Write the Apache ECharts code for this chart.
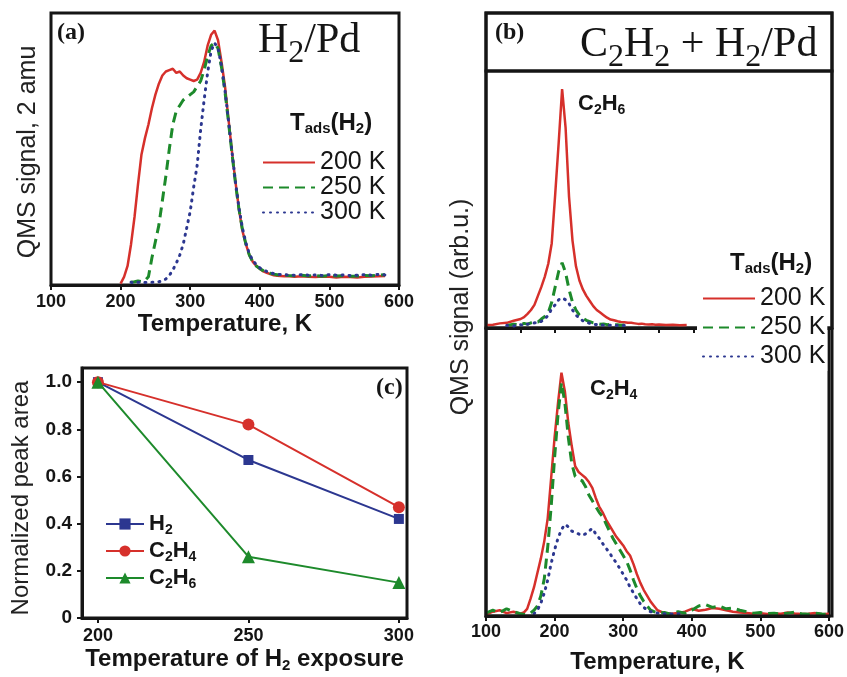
<!DOCTYPE html>
<html><head><meta charset="utf-8">
<script src="https://cdn.jsdelivr.net/npm/echarts@6/dist/echarts.min.js"></script>
<style>html,body{margin:0;padding:0;background:#fff}#c{width:847px;height:677px}</style>
</head><body><div id="c"></div>
<script>
// ---------- Panel (a): H2 TPD, QMS 2 amu ----------
const tempsA = [200,205,210,215,220,225,230,235,240,245,
  250,255,260,265,270,275,280,285,290,295,
  300,305,310,315,320,325,330,335,340,345,
  350,355,360,365,370,375,380,385,390,395,
  400,405,410,415,420,425,430,435,440,
  450,460,470,480,490,500,510,520,530,540,550,560,570,580];
const a200 = [0.5,3,7,15,25,37,48,54,59,65,
  70,74,77,78.5,79,79.5,78,78.5,77,76,
  75.5,75,75.5,78,82,88,92,93.5,90,82,
  73,61,49,38,28,20,15,11,8.5,7,
  6,5,4.5,4,3.6,3.4,3.3,3.2,3.3,
  3,3.2,3,2.9,3.1,3,2.8,3,2.9,2.8,3,3.1,3.2,3.3];
const a250 = [null,null,null,1,1.2,1.5,1.3,1.6,3,10,
  16,22,31,40,50,59,64,66,68,69,
  70,71,73,75,79,84,88,89,87,80,
  71,60,48.5,37.5,28,20.5,15,11,8.5,7,
  6,5.3,4.8,4.3,4,3.8,3.6,3.7,3.5,
  3.4,3.6,3.3,3.5,3.2,3.5,3.3,3.4,3.2,3.3,3.5,3.4,3.6,3.8];
const a300 = [null,null,null,1,0.8,1,1.1,0.9,1,1,
  1.1,1.2,1.5,2.2,3.5,5.5,8,11,15,21,
  27,36,44,57,68,78,86,89,87,80.5,
  71.5,60.5,49,38,28.5,21,15.5,11.5,9,7.5,
  6.3,5.5,5,4.5,4.2,4,3.8,3.9,3.7,
  3.6,3.8,3.6,3.7,3.5,3.8,3.6,3.7,3.5,3.6,3.8,3.6,3.9,3.7];

// ---------- Panel (b): C2H2 + H2/Pd ----------
const tempsB = [100,110,120,130,140,150,
  155,160,165,170,175,180,185,190,195,200,
  205,210,215,220,225,230,235,240,245,250,
  255,260,265,270,275,280,285,290,295,300,
  305,310,315,320,325,330,335,340,345,350,
  360,370,380,390,400,410,420,430,440,450,460,470,480,490,500,510,520,530,540,550,560,570,580,590,600];
// C2H6 (upper)
const c2h6_200 = [1.2,1.3,1.8,2,2.8,3.5,
  4.2,5.5,7,9,12.5,16,20,25,33,52,
  72,93,78,51,34,24,18.5,15,12.5,10.5,
  8.5,7,6,5,4,3.3,3,2.6,2.3,2.2,
  2,2,1.8,1.6,1.7,1.5,1.4,1.5,1.3,1.4,
  1.2,1.3,1.1,1.2,null,null,null,null,null,null,null,null,null,null,null,null,null,null,null,null,null,null,null,null,null];
const c2h6_250 = [null,null,null,1,1.5,1.2,
  1.8,1.5,2,2.5,2.3,3.5,4.5,6,10,16,
  22,25.4,21.5,15,10,7,5,3.8,3,2.5,
  2,1.8,1.5,1.6,1.3,1.4,1.2,1.3,1.1,1.2,
  null,null,null,null,null,null,null,null,null,null,
  null,null,null,null,null,null,null,null,null,null,null,null,null,null,null,null,null,null,null,null,null,null,null,null,null];
const c2h6_300 = [null,null,null,1,0.8,1.3,
  1,1.5,1.7,2,2,2.6,3.5,5,7.5,9,
  11,11.7,11,9.5,7,5,3.8,2.8,2.3,1.8,
  1.5,1.3,1.2,1.1,1,1.1,0.9,1,0.9,1,
  null,null,null,null,null,null,null,null,null,null,
  null,null,null,null,null,null,null,null,null,null,null,null,null,null,null,null,null,null,null,null,null,null,null,null,null];
// C2H4 (lower)
const c2h4_200 = [0.5,1.5,2,1,1.5,0.8,
  1.2,2.5,6,10,15,20,26,34,48,62,
  74,84.5,78,67,59,52,50,49,48,46.5,
  44.5,41,38,36,33.5,31.5,29.5,27.5,26,24.5,
  22.5,21,18,14.5,11.5,9,7,5,3.5,2,
  1,0.8,1,1.5,2.5,1.8,2.2,2.8,2.5,2,1.5,1.2,1,0.8,1,0.7,0.9,0.8,1.2,0.9,0.7,0.8,1,0.6,0.8];
const c2h4_250 = [1,2,1.2,2.5,1.5,0.8,
  0.5,0.5,1,2,3.5,7,13,24,38,55,
  70,81,74,62,53,48.5,47.5,47,45,42,
  40,38,36,34.5,32,29.5,27,25,23,21,
  19,16,12.5,9.5,7,5,3.5,2,1.5,1,
  1.2,0.6,1.5,1,2,3.5,4,3,3.5,2.5,2.8,2,1.5,1,1.2,0.8,1,0.7,1,1.3,0.8,0.6,1,0.7,0.5];
const c2h4_300 = [null,null,null,null,null,null,
  null,null,null,0.8,2,4.5,8,12.5,18.3,23,
  27,30,31.8,31,29.5,29,28.5,28,28.5,29.5,
  30.4,28.5,27,25.2,23.5,22,20,18.5,16.5,14.5,
  12.5,10,8,6,4.2,3,2,1.5,1.2,1,
  0.8,0.7,0.8,0.6,null,null,null,null,null,null,null,null,null,null,null,null,null,null,null,null,null,null,null,null,null];

// ---------- Panel (c): normalized peak areas ----------
const cTemps = [200,250,300];
const cH2   = [1.0,0.67,0.42];
const cC2H4 = [1.0,0.82,0.47];
const cC2H6 = [1.0,0.26,0.15];

const xTicksC = [200,250,300];
const yTicksC = [0,0.2,0.4,0.6,0.8,1.0];

// ---------- styling ----------
const SANS = '"Liberation Sans", Arial, sans-serif';
const SERIF = '"Liberation Serif", "Times New Roman", serif';
const RED = '#d6302b', GREEN = '#1d8a2b', BLUE = '#2c3790', INK = '#151515';

function zip(xs, ys){ const out=[]; for(let i=0;i<xs.length;i++){ if(ys[i]!==null) out.push([xs[i], ys[i]]); } return out; }

const tprStyle = {
  '200 K': {color: RED, width: 2.5, type: 'solid'},
  '250 K': {color: GREEN, width: 3, type: [10,6]},
  '300 K': {color: BLUE, width: 3, type: [1,6], cap: 'round'}
};
function tprSeries(name, xi, ys, xs){
  const ls = tprStyle[name];
  return {type:'line', name, xAxisIndex: xi, yAxisIndex: xi, data: zip(xs, ys),
    symbol:'none', showSymbol:false, animation:false,
    lineStyle: Object.assign({}, ls), itemStyle:{color: ls.color}};
}

const gridBase = {show:true, borderColor: INK, borderWidth: 3, backgroundColor:'transparent', containLabel:false};
const noAxis = {axisLine:{show:false}, axisTick:{show:false}, axisLabel:{show:false}, splitLine:{show:false}};
const tickLab = {fontFamily: SANS, fontWeight:'bold', fontSize: 18, color: INK};

const subRichSans = (F, f, L, p) => ({
  m: {fontFamily: SANS, fontWeight:'bold', fontSize: F, lineHeight: L, color: INK},
  s: {fontFamily: SANS, fontWeight:'bold', fontSize: f, lineHeight: L, padding:[p,0,0,0], color: INK}
});
const gRich = (fam, w, F, f, L, p) => ({
  m: {fontFamily: fam, fontWeight: w, fontSize: F, lineHeight: L, fill: INK},
  s: {fontFamily: fam, fontWeight: w, fontSize: f, lineHeight: L, padding:[p,0,0,0], fill: INK}
});

function gText(x, y, text, rich, extra){
  return Object.assign({type:'text', x, y, z: 100, style: {text, rich, textAlign:'left', textVerticalAlign:'middle', fill: INK}}, extra||{});
}
function plainText(x, y, text, font, align, rot){
  return {type:'text', x, y, z:100, rotation: rot||0,
    style:{text, font, fill: '#222', textAlign: align||'center', textVerticalAlign:'middle'}};
}

const legendNames = {'H2':'{m|H}{s|2}', 'C2H4':'{m|C}{s|2}{m|H}{s|4}', 'C2H6':'{m|C}{s|2}{m|H}{s|6}'};

const option = {
  animation: false,
  backgroundColor: '#fff',
  grid: [
    Object.assign({left: 51, top: 13, width: 348, height: 272}, gridBase),
    Object.assign({left: 82, top: 368, width: 325, height: 250}, gridBase),
    Object.assign({left: 486, top: 71, width: 346, height: 257}, gridBase),
    Object.assign({left: 486, top: 328, width: 346, height: 288}, gridBase)
  ],
  xAxis: [
    {gridIndex:0, type:'value', min:100, max:600, interval:100,
      axisLine:{show:true, lineStyle:{color:INK, width:3}},
      axisTick:{show:true, inside:false, length:5, lineStyle:{color:INK, width:2}},
      axisLabel: Object.assign({margin: 8}, tickLab), splitLine:{show:false},
      name:'Temperature, K', nameLocation:'middle', nameGap: 27,
      nameTextStyle:{fontFamily:SANS, fontWeight:'bold', fontSize:24, color:INK, verticalAlign:'top'}},
    {gridIndex:1, type:'value', min:194.7, max:302.7,
      axisLine:{show:true, lineStyle:{color:INK, width:3}},
      axisTick:{show:true, inside:false, length:5, customValues: xTicksC, lineStyle:{color:INK, width:2}},
      axisLabel: Object.assign({margin: 9, customValues: xTicksC}, tickLab), splitLine:{show:false},
      name:'{m|Temperature of H}{s|2}{m| exposure}', nameLocation:'middle', nameGap: 27,
      nameTextStyle:{verticalAlign:'top', rich: subRichSans(24, 15, 28, 12)}},
    {gridIndex:2, type:'value', min:100, max:600, interval:50,
      axisLine:{show:true, lineStyle:{color:INK, width:3}},
      axisTick:{show:true, inside:false, length:5, lineStyle:{color:INK, width:2}},
      axisLabel:{show:false}, splitLine:{show:false}},
    {gridIndex:3, type:'value', min:100, max:600, interval:100,
      axisLine:{show:true, lineStyle:{color:INK, width:3}},
      axisTick:{show:true, inside:false, length:5, lineStyle:{color:INK, width:2}},
      axisLabel: Object.assign({margin: 7}, tickLab), splitLine:{show:false},
      name:'Temperature, K', nameLocation:'middle', nameGap: 34,
      nameTextStyle:{fontFamily:SANS, fontWeight:'bold', fontSize:24, color:INK, verticalAlign:'top'}}
  ],
  yAxis: [
    Object.assign({gridIndex:0, type:'value', min:0, max:100}, noAxis),
    {gridIndex:1, type:'value', min:0, max:1.06,
      axisLine:{show:true, lineStyle:{color:INK, width:3}},
      axisTick:{show:true, inside:false, length:5, customValues: yTicksC, lineStyle:{color:INK, width:2}},
      axisLabel: Object.assign({margin: 10, customValues: yTicksC, fontSize: 19,
        formatter: v => v === 0 ? '0' : v.toFixed(1)}, {fontFamily: SANS, fontWeight:'bold', color: INK}),
      splitLine:{show:false}},
    Object.assign({gridIndex:2, type:'value', min:0, max:100}, noAxis),
    Object.assign({gridIndex:3, type:'value', min:0, max:100}, noAxis)
  ],
  legend: [
    {data:['200 K','250 K','300 K'], orient:'vertical', left: 262, top: 150, padding: 0,
      itemWidth: 52, itemHeight: 12, itemGap: 0, selectedMode: false,
      itemStyle:{opacity: 0},
      textStyle:{fontFamily: SANS, fontSize: 25, color: INK, lineHeight: 24}},
    {data:['200 K','250 K','300 K'], orient:'vertical', left: 697, top: 284, padding: [0,2,0,5],
      backgroundColor:'#fff', itemWidth: 52, itemHeight: 12, itemGap: 0, selectedMode: false, z: 20,
      itemStyle:{opacity: 0},
      textStyle:{fontFamily: SANS, fontSize: 25, color: INK, lineHeight: 29}},
    {data:['H2','C2H4','C2H6'], orient:'vertical', left: 105, top: 511, padding: 0,
      itemWidth: 38, itemHeight: 14, itemGap: 1, selectedMode: false,
      formatter: n => legendNames[n],
      textStyle:{rich: subRichSans(22, 14, 28, 12)}}
  ],
  series: [
    tprSeries('200 K', 0, a200, tempsA),
    tprSeries('250 K', 0, a250, tempsA),
    tprSeries('300 K', 0, a300, tempsA),
    tprSeries('200 K', 2, c2h6_200, tempsB),
    tprSeries('250 K', 2, c2h6_250, tempsB),
    tprSeries('300 K', 2, c2h6_300, tempsB),
    tprSeries('200 K', 3, c2h4_200, tempsB),
    tprSeries('250 K', 3, c2h4_250, tempsB),
    tprSeries('300 K', 3, c2h4_300, tempsB),
    {type:'line', name:'H2', xAxisIndex:1, yAxisIndex:1, data: zip(cTemps, cH2),
      symbol:'rect', symbolSize: 10, lineStyle:{color: BLUE, width: 2}, itemStyle:{color: BLUE}},
    {type:'line', name:'C2H4', xAxisIndex:1, yAxisIndex:1, data: zip(cTemps, cC2H4),
      symbol:'circle', symbolSize: 12, lineStyle:{color: RED, width: 2}, itemStyle:{color: RED}},
    {type:'line', name:'C2H6', xAxisIndex:1, yAxisIndex:1, data: zip(cTemps, cC2H6),
      symbol:'triangle', symbolSize: 13, lineStyle:{color: GREEN, width: 2}, itemStyle:{color: GREEN}}
  ],
  graphic: [
    {type:'rect', z: 50, shape:{x:486, y:13, width:346, height:58}, style:{fill:'none', stroke: INK, lineWidth: 3}},
    {type:'rect', z: 50, shape:{x:486, y:13, width:346, height:603}, style:{fill:'none', stroke: INK, lineWidth: 3}},
    gText(57, 33, '{m|(a)}', gRich(SERIF, 'bold', 24, 24, 28, 0)),
    gText(258, 41, '{m|H}{s|2}{m|/Pd}', gRich(SERIF, 'normal', 42, 32, 48, 26)),
    gText(495, 33, '{m|(b)}', gRich(SERIF, 'bold', 24, 24, 28, 0)),
    gText(580, 45, '{m|C}{s|2}{m|H}{s|2}{m| + H}{s|2}{m|/Pd}', gRich(SERIF, 'normal', 42, 32, 48, 26)),
    gText(376, 388, '{m|(c)}', gRich(SERIF, 'bold', 24, 24, 28, 0)),
    gText(290, 123, '{m|T}{s|ads}{m|(H}{s|2}{m|)}', gRich(SANS, 'bold', 24, 15, 28, 12)),
    gText(730, 263, '{m|T}{s|ads}{m|(H}{s|2}{m|)}', gRich(SANS, 'bold', 24, 15, 28, 12)),
    gText(578, 104, '{m|C}{s|2}{m|H}{s|6}', gRich(SANS, 'bold', 22, 14, 28, 12)),
    gText(590, 389, '{m|C}{s|2}{m|H}{s|4}', gRich(SANS, 'bold', 22, 14, 28, 12)),
    plainText(28, 152, 'QMS signal, 2 amu', '25px ' + SANS, 'center', Math.PI/2),
    plainText(461, 307, 'QMS signal (arb.u.)', '25px ' + SANS, 'center', Math.PI/2),
    plainText(21, 498, 'Normalized peak area', '24px ' + SANS, 'center', Math.PI/2)
  ]
};

const chart = echarts.init(document.getElementById('c'), null, {renderer:'canvas'});
chart.setOption(option);
</script>
</body></html>
